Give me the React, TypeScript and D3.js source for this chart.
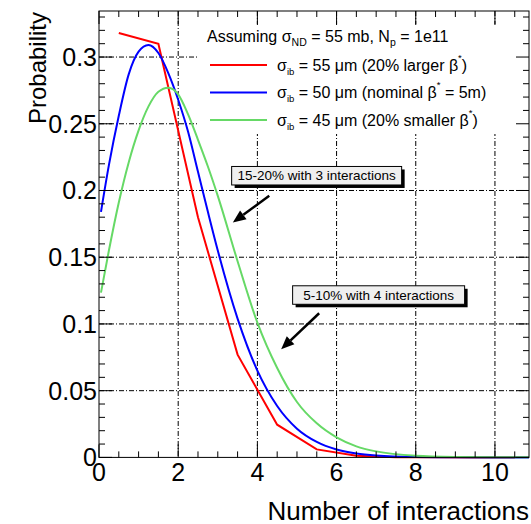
import React from "react";
import * as d3 from "d3";

// axis ticks
const xTickValues = [0, 2, 4, 6, 8, 10];
const xTickLabels = ["0", "2", "4", "6", "8", "10"];
const yTickValues = [0, 0.05, 0.1, 0.15, 0.2, 0.25, 0.3];
const yTickLabels = ["0", "0.05", "0.1", "0.15", "0.2", "0.25", "0.3"];

// red: sigma 55um, drawn as straight segments between bin centres
const redX = [0.5, 1.5, 2.5, 3.5, 4.5, 5.5, 6.5, 7.5, 8.5, 9.5, 10.5];
const redY = [0.318, 0.31, 0.18, 0.077, 0.0245, 0.006, 0.0012, 0.0002, 0.00003, 0, 0];

// blue and green are smooth curves, sampled at these x
const smoothX = [0.05, 0.25, 0.5, 0.75, 1, 1.25, 1.5, 1.75, 2, 2.25, 2.5, 2.75, 3, 3.5, 4, 4.5, 5, 5.5, 6, 6.5, 7, 8, 9, 10, 10.86];
const blueY = [0.184, 0.219, 0.256, 0.287, 0.304, 0.309, 0.303, 0.288, 0.268, 0.244, 0.214, 0.184, 0.155, 0.104, 0.065, 0.0385, 0.0215, 0.0116, 0.0059, 0.0029, 0.0014, 0.0003, 0.00006, 0.00001, 0];
const greenY = [0.1235, 0.155, 0.191, 0.221, 0.245, 0.263, 0.274, 0.277, 0.272, 0.257, 0.238, 0.218, 0.196, 0.147, 0.101, 0.067, 0.0415, 0.0255, 0.015, 0.0083, 0.0045, 0.0012, 0.0003, 0.00007, 0.00002];

const seriesColors = ["#ff0000", "#0000ff", "#66d966"];
const legendSizes = ["55", "50", "45"];
const legendBefore = [" μm (20% larger β", " μm (nominal β", " μm (20% smaller β"];
const legendAfter = [")", " = 5m)", ")"];

const noteTexts = ["15-20% with 3 interactions", "5-10% with 4 interactions"];

const W = 531;
const H = 524;
const L = 99, T = 11, R = 529, B = 457.4;
const FONT = "'Liberation Sans', Arial, Helvetica, sans-serif";

const x = d3.scaleLinear().domain([0, 10.86]).range([L, R]);
const y = d3.scaleLinear().domain([0, 0.3345]).range([B, T]);

// annotation placement in data units: box top-left, arrow tail, arrow head
const noteLayout = [
  { bx: 3.35, by: 0.218, w: 170, from: [4.3, 0.196], to: [3.38, 0.176] },
  { bx: 4.89, by: 0.1286, w: 172, from: [5.56, 0.108], to: [4.6, 0.081] },
];

const Arrow = ({ from, to }) => {
  const x1 = x(from[0]), y1 = y(from[1]);
  const x2 = x(to[0]), y2 = y(to[1]);
  const a = Math.atan2(y2 - y1, x2 - x1);
  const len = 13, hw = 5.5;
  const bxp = x2 - len * Math.cos(a), byp = y2 - len * Math.sin(a);
  const p1 = [bxp + hw * Math.sin(a), byp - hw * Math.cos(a)];
  const p2 = [bxp - hw * Math.sin(a), byp + hw * Math.cos(a)];
  return (
    <g>
      <line x1={x1} y1={y1} x2={bxp} y2={byp} stroke="#000" strokeWidth={2.5} />
      <polygon points={`${x2},${y2} ${p1[0]},${p1[1]} ${p2[0]},${p2[1]}`} fill="#000" />
    </g>
  );
};

export default function App() {
  const smoothLine = d3
    .line()
    .x((d) => x(d[0]))
    .y((d) => y(d[1]))
    .curve(d3.curveMonotoneX);
  const straightLine = d3
    .line()
    .x((d) => x(d[0]))
    .y((d) => y(d[1]));

  const redPath = straightLine(redX.map((v, i) => [v, redY[i]]));
  const bluePath = smoothLine(smoothX.map((v, i) => [v, blueY[i]]));
  const greenPath = smoothLine(smoothX.map((v, i) => [v, greenY[i]]));

  const xMinor = d3.range(0, 10.86, 0.5);
  const yMinor = d3.range(0, 0.334, 0.01);
  const isMajorX = (v) => Math.abs(v / 2 - Math.round(v / 2)) < 1e-6;
  const isMajorY = (v) => Math.abs(v / 0.05 - Math.round(v / 0.05)) < 1e-6;

  const grid = "5 2 1 2";

  return (
    <svg
      width={W}
      height={H}
      style={{ position: "absolute", left: 0, top: 0, background: "#fff" }}
      fontFamily={FONT}
    >
      {/* grid */}
      {xTickValues.filter((v) => v > 0).map((v) => (
        <line key={"gx" + v} x1={x(v)} x2={x(v)} y1={T} y2={B} stroke="#000" strokeWidth={1} strokeDasharray={grid} />
      ))}
      {yTickValues.filter((v) => v > 0).map((v) => (
        <line key={"gy" + v} x1={L} x2={R} y1={y(v)} y2={y(v)} stroke="#000" strokeWidth={1} strokeDasharray={grid} />
      ))}

      {/* legend background */}
      <rect x={198} y={25} width={R - 198} height={109} fill="#fff" />

      {/* curves */}
      <path d={redPath} fill="none" stroke={seriesColors[0]} strokeWidth={2} />
      <path d={bluePath} fill="none" stroke={seriesColors[1]} strokeWidth={2} />
      <path d={greenPath} fill="none" stroke={seriesColors[2]} strokeWidth={2} />

      {/* frame and ticks */}
      <rect x={L} y={T} width={R - L} height={B - T} fill="none" stroke="#000" strokeWidth={1} />
      {xMinor.map((v) => {
        const len = isMajorX(v) ? 13 : 6;
        return (
          <g key={"tx" + v}>
            <line x1={x(v)} x2={x(v)} y1={B} y2={B - len} stroke="#000" />
            <line x1={x(v)} x2={x(v)} y1={T} y2={T + len} stroke="#000" />
          </g>
        );
      })}
      {yMinor.map((v) => {
        const len = isMajorY(v) ? 13 : 6;
        return (
          <g key={"ty" + v}>
            <line x1={L} x2={L + len} y1={y(v)} y2={y(v)} stroke="#000" />
            <line x1={R} x2={R - len} y1={y(v)} y2={y(v)} stroke="#000" />
          </g>
        );
      })}

      {/* tick labels */}
      {xTickValues.map((v, i) => (
        <text key={"lx" + v} x={x(v)} y={481} fontSize={25} textAnchor="middle" fill="#000">
          {xTickLabels[i]}
        </text>
      ))}
      {yTickValues.map((v, i) => (
        <text key={"ly" + v} x={97} y={y(v) + 9} fontSize={25} textAnchor="end" fill="#000">
          {yTickLabels[i]}
        </text>
      ))}

      {/* axis titles */}
      <text x={R} y={520} fontSize={26} textAnchor="end" fill="#000">
        Number of interactions
      </text>
      <text transform={`translate(46,12) rotate(-90)`} fontSize={24} textAnchor="end" fill="#000">
        Probability
      </text>

      {/* legend */}
      <text x={207} y={41.5} fontSize={16} fill="#000">
        <tspan>Assuming σ</tspan>
        <tspan fontSize={10.5} dy={4}>ND</tspan>
        <tspan dy={-4}>{" = 55 mb, N"}</tspan>
        <tspan fontSize={10.5} dy={4}>p</tspan>
        <tspan dy={-4}>{" = 1e11"}</tspan>
      </text>
      {legendSizes.map((s, i) => {
        const ly = 65 + i * 27.5;
        return (
          <g key={"leg" + i}>
            <line x1={210} x2={267} y1={ly} y2={ly} stroke={seriesColors[i]} strokeWidth={2} />
            <text x={277} y={ly + 5.5} fontSize={16} fill="#000">
              <tspan>σ</tspan>
              <tspan fontSize={9.5} dy={4}>ib</tspan>
              <tspan dy={-4}>{" = " + s + legendBefore[i]}</tspan>
              <tspan fontSize={9.5} dy={-10}>*</tspan>
              <tspan dy={10}>{legendAfter[i]}</tspan>
            </text>
          </g>
        );
      })}

      {/* annotations */}
      {noteTexts.map((t, i) => {
        const n = noteLayout[i];
        const bx = x(n.bx), by = y(n.by);
        return (
          <g key={"note" + i}>
            <rect x={bx + 3} y={by + 3} width={n.w} height={18.5} fill="#000" />
            <rect x={bx} y={by} width={n.w} height={18.5} fill="#efefef" stroke="#000" strokeWidth={1} />
            <text x={bx + n.w / 2} y={by + 14} fontSize={13.5} textAnchor="middle" fill="#000">
              {t}
            </text>
            <Arrow from={n.from} to={n.to} />
          </g>
        );
      })}
    </svg>
  );
}
